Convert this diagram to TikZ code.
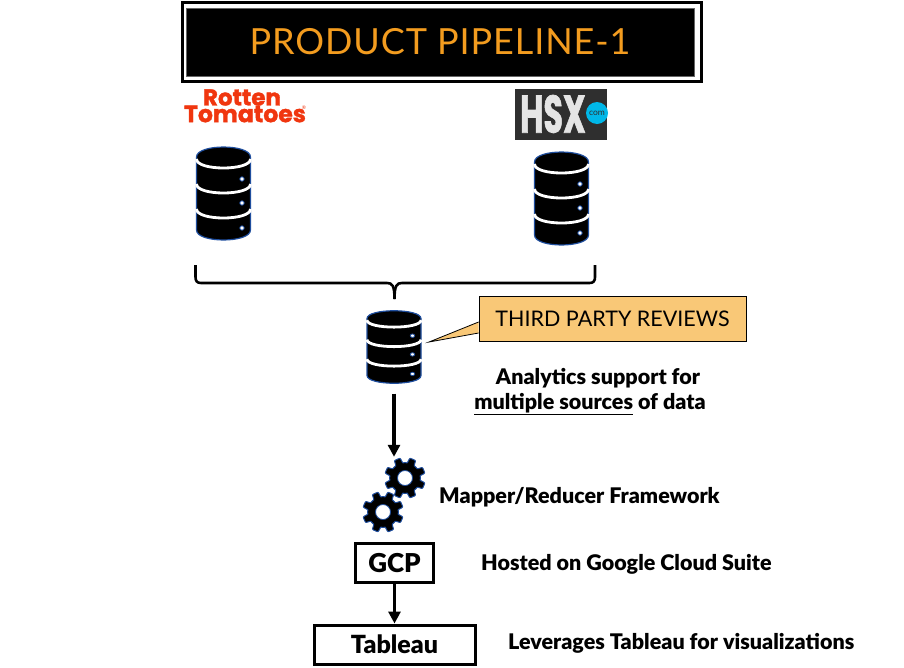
\documentclass[tikz,border=0pt]{standalone}
\usepackage{fontspec}
\setmainfont{Lato}
\newfontfamily\logofont[FakeBold=1.5]{Poppins Bold}
\newfontfamily\notefont{Lato Black}
\newfontfamily\titlefont[LetterSpace=2.5]{Lato}
\usetikzlibrary{arrows.meta, positioning}
\definecolor{titleorange}{HTML}{F39C1F}
\definecolor{calloutfill}{HTML}{F9C877}
\definecolor{iconblue}{HTML}{1F4E9E}
\definecolor{rtred}{HTML}{F0360F}
\definecolor{hsxgrey}{HTML}{2F2F2F}
\definecolor{hsxcyan}{HTML}{00B7E8}
\tikzset{
  dbicon/.pic={
    \path[fill=black,draw=iconblue,line width=1.2pt] (-27,-36.5) .. controls (-27,-49.8) and (27,-49.8) .. (27,-36.5)
      -- (27,36.5) .. controls (27,49.8) and (-27,49.8) .. (-27,36.5) -- cycle;
    \foreach \c in {-34.5,-9.5,15.5}
      \draw[white,line width=2.8pt] (-27,\c) .. controls (-27,\c+12) and (27,\c+12) .. (27,\c);
    \foreach \c in {-14.5,9.5,34.5}
      \fill[white,draw=iconblue,line width=.8pt] (18.5,\c) circle (2.2);
  },
  gearicon/.pic={
    \draw[fill=black,draw=iconblue,line width=1pt] plot[domain=0:360,samples=193]
      (\x+11.25:{17.8+max(-2.5,min(2.5,7*sin(8*\x)))}) -- cycle;
    \fill[white,draw=iconblue,line width=.8pt] (0,0) circle (7.5);
  }
}
\begin{document}
\begin{tikzpicture}[x=1pt,y=-1pt,>={Triangle[length=12pt,width=12pt]},
  dbnode/.style={minimum width=55pt,minimum height=93pt,inner sep=0pt},
  note/.style={anchor=west,font=\fontsize{21.5}{26}\selectfont\notefont,inner sep=0pt},
  box/.style={draw=black,line width=3pt,inner sep=0pt},
  link/.style={line width=3.4pt}]
  \useasboundingbox (0,0) rectangle (904,667);

  %title
  \node[draw=black,line width=3pt,minimum width=519pt,minimum height=79pt,inner sep=0pt] (titleframe) at (442.3,42) {};
  \node[fill=black,draw=black!60,line width=1pt,minimum width=508pt,minimum height=68pt,inner sep=0pt,
    text=titleorange,font=\fontsize{36}{40}\selectfont\titlefont] (title) at (440,42) {PRODUCT PIPELINE-1};

  %logos
  \node[text=rtred,font=\fontsize{23}{24}\selectfont\logofont,inner sep=0pt] (rotten) at (242,97.5) {Rotten};
  \node[text=rtred,font=\fontsize{23.5}{24}\selectfont\logofont,inner sep=0pt] (tomatoes) at (245,114) {Tomatoes};
  \node[text=rtred,font=\fontsize{5}{5}\selectfont,inner sep=0pt] (rtmark) at (304,108) {®};
  \node[fill=hsxgrey,minimum width=92pt,minimum height=51pt,inner sep=0pt] (hsxlogo) at (561,114.5) {};
  \node[text=black!10,font=\fontsize{53}{53}\selectfont\logofont,inner sep=0pt,anchor=west] (hsxname) at (520,114) {\scalebox{.6}[1]{HSX}};
  \node[circle,fill=hsxcyan,minimum size=22pt,inner sep=0pt,text=hsxgrey,font=\fontsize{8.5}{9}\selectfont] (hsxcom) at (597,113) {com};

  %sources
  \node[dbnode] (rtdb) at (223.5,193.5) {};
  \node[dbnode] (hsxdb) at (561.5,198.5) {};
  \pic at (rtdb) {dbicon};
  \pic at (hsxdb) {dbicon};

  %merge
  \coordinate (braceleft) at (195.5,265);
  \coordinate (braceright) at (595,265);
  \coordinate (bracetip) at (394.5,299);
  \draw[line width=2.6pt] (braceleft) -- (195.5,277) .. controls (195.5,281) and (197,283) .. (201,283) -- (387,283)
    .. controls (392,283) and (394.5,285) .. (bracetip);
  \draw[line width=2.6pt] (braceright) -- (595,277) .. controls (595,281) and (593.5,283) .. (589.5,283) -- (402,283)
    .. controls (397,283) and (394.5,285) .. (bracetip);

  %reviews
  \node[dbnode,minimum height=73pt] (revdb) at (394,347) {};
  \pic[yscale=.78] at (revdb) {dbicon};
  \node[fill=calloutfill,draw=black,line width=.8pt,minimum width=267pt,minimum height=45pt,inner sep=0pt,
    font=\fontsize{21.5}{26}\selectfont] (revnote) at (612.5,318.5) {THIRD PARTY REVIEWS};
  \coordinate (revpoint) at (429,342);
  \path[fill=calloutfill,draw=black,line width=.8pt] ([yshift=-3.5pt]revnote.west) -- (revpoint) -- ([yshift=-14.5pt]revnote.west);
  \node[note,anchor=center] (analytics) at (598,378) {Analytics support for};
  \node[note,anchor=center] (sources) at (590,404) {\underline{multiple sources} of data};

  %processing
  \node[minimum width=64pt,minimum height=76pt,inner sep=0pt] (gears) at (394,495) {};
  \pic at (405,478) {gearicon};
  \pic at (383,512) {gearicon};
  \node[note] (mapper) at (439,497) {Mapper/Reducer Framework};
  \node[box,minimum width=78pt,minimum height=39pt,font=\fontsize{26}{28}\selectfont\notefont] (gcp) at (394.5,563) {GCP};
  \node[note] (hosted) at (481,564) {Hosted on Google Cloud Suite};
  \node[box,minimum width=161pt,minimum height=39pt,font=\fontsize{25}{28}\selectfont\notefont] (tableau) at (394.5,644.5) {Tableau};
  \node[note] (leverages) at (508,643) {Leverages Tableau for visualizations};

  \path[->,link]
    (revdb) edge[shorten <=10pt] (gears)
    (gcp) edge (tableau);
\end{tikzpicture}
\end{document}
